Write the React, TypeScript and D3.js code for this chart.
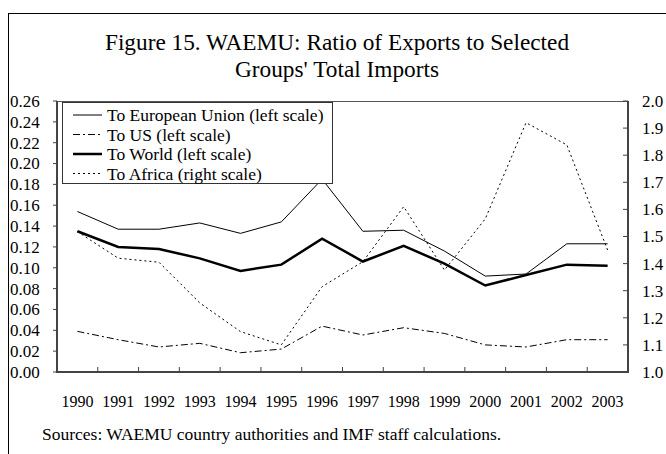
import React from "react";
import * as d3 from "d3";

const years = ["1990","1991","1992","1993","1994","1995","1996","1997","1998","1999","2000","2001","2002","2003"];
const euValues = [0.154,0.137,0.137,0.143,0.133,0.144,0.185,0.135,0.136,0.116,0.092,0.094,0.123,0.123];
const usValues = [0.039,0.031,0.024,0.0275,0.0185,0.022,0.044,0.0355,0.0425,0.037,0.026,0.024,0.031,0.031];
const worldValues = [0.135,0.120,0.118,0.109,0.097,0.103,0.128,0.106,0.121,0.104,0.083,0.093,0.103,0.102];
const africaValues = [1.518,1.42,1.405,1.255,1.149,1.10,1.315,1.407,1.61,1.376,1.565,1.92,1.838,1.45];
const leftTicks = [0,0.02,0.04,0.06,0.08,0.10,0.12,0.14,0.16,0.18,0.20,0.22,0.24,0.26];
const rightTicks = [1.0,1.1,1.2,1.3,1.4,1.5,1.6,1.7,1.8,1.9,2.0];
const legendLabels = ["To European Union (left scale)","To US (left scale)","To World (left scale)","To Africa (right scale)"];
const titleLines = ["Figure 15. WAEMU: Ratio of Exports to Selected","Groups' Total Imports"];
const sourceText = "Sources: WAEMU country authorities and IMF staff calculations.";

const W = 666, H = 454;
const L = 57, R = 628, T = 101, B = 372;
const FONT = "'Liberation Serif', 'Times New Roman', serif";

export default function App() {
  const x = d3.scaleBand<string>().domain(years).range([L, R]);
  const xc = (y: string) => (x(y) as number) + x.bandwidth() / 2;
  const yL = d3.scaleLinear().domain([0, 0.26]).range([B, T]);
  const yR = d3.scaleLinear().domain([1, 2]).range([B, T]);
  const lineL = d3.line<number>().x((_, i) => xc(years[i])).y((v) => yL(v));
  const lineR = d3.line<number>().x((_, i) => xc(years[i])).y((v) => yR(v));

  const styles = [
    { stroke: "#000", width: 1, dash: undefined as string | undefined },
    { stroke: "#000", width: 1, dash: "7,3,2,3" },
    { stroke: "#000", width: 2.5, dash: undefined },
    { stroke: "#000", width: 1, dash: "2,3" },
  ];

  const lx = 62, ly = 102, lw = 270, lh = 81;
  const rowY = [115, 134.5, 154, 173.5];

  return (
    <svg width={W} height={H} style={{ position: "absolute", left: 0, top: 0, background: "#fff" }} fontFamily={FONT}>
      <rect x={0} y={0} width={W} height={H} fill="#fff" />
      {/* frame */}
      <line x1={8} y1={13.5} x2={W} y2={13.5} stroke="#000" strokeWidth={1} />
      <line x1={8.5} y1={13} x2={8.5} y2={H} stroke="#000" strokeWidth={1} />

      {/* title */}
      {titleLines.map((t, i) => (
        <text key={t} x={337} y={50 + i * 27} textAnchor="middle" fontSize={23.3} fill="#000">{t}</text>
      ))}

      {/* top frame of plot */}
      <line x1={L} y1={T + 0.5} x2={R} y2={T + 0.5} stroke="#555" strokeWidth={1} />

      {/* left axis */}
      <line x1={L} y1={T} x2={L} y2={B + 1} stroke="#444" strokeWidth={2} />
      {leftTicks.map((v) => (
        <g key={"l" + v}>
          <line x1={L - 4} x2={L} y1={yL(v)} y2={yL(v)} stroke="#444" strokeWidth={1} />
          <text x={10} y={yL(v)} dy="0.35em" fontSize={17} fill="#000">{v.toFixed(2)}</text>
        </g>
      ))}

      {/* right axis */}
      <line x1={R} y1={T} x2={R} y2={B + 1} stroke="#444" strokeWidth={2} />
      {rightTicks.map((v) => (
        <g key={"r" + v}>
          <line x1={R - 5} x2={R} y1={yR(v)} y2={yR(v)} stroke="#444" strokeWidth={1} />
          <text x={642} y={yR(v)} dy="0.35em" fontSize={17} fill="#000">{v.toFixed(1)}</text>
        </g>
      ))}

      {/* bottom axis */}
      <line x1={L - 1} y1={B} x2={R + 1} y2={B} stroke="#444" strokeWidth={2} />
      {years.map((yr, i) => (
        <g key={yr}>
          {i > 0 && <line x1={x(yr) as number} x2={x(yr) as number} y1={B} y2={B - 5} stroke="#444" strokeWidth={1} />}
          <text x={xc(yr)} y={407} textAnchor="middle" fontSize={16} fill="#000">{yr}</text>
        </g>
      ))}

      {/* series */}
      <path d={lineR(africaValues) || ""} fill="none" stroke="#000" strokeWidth={1} strokeDasharray="2,3" />
      <path d={lineL(usValues) || ""} fill="none" stroke="#000" strokeWidth={1} strokeDasharray="7,3,2,3" />
      <path d={lineL(euValues) || ""} fill="none" stroke="#000" strokeWidth={1} />
      <path d={lineL(worldValues) || ""} fill="none" stroke="#000" strokeWidth={2.5} />

      {/* legend */}
      <rect x={lx + 0.5} y={ly + 0.5} width={lw} height={lh} fill="#fff" stroke="#333" strokeWidth={1} />
      {legendLabels.map((lab, i) => (
        <g key={lab}>
          <line x1={73} x2={102} y1={rowY[i]} y2={rowY[i]} stroke={styles[i].stroke} strokeWidth={styles[i].width} strokeDasharray={styles[i].dash} />
          <text x={107} y={rowY[i]} dy="0.35em" fontSize={17.5} fill="#000">{lab}</text>
        </g>
      ))}

      {/* source */}
      <text x={42} y={440} fontSize={17.5} fill="#000">{sourceText}</text>
    </svg>
  );
}
